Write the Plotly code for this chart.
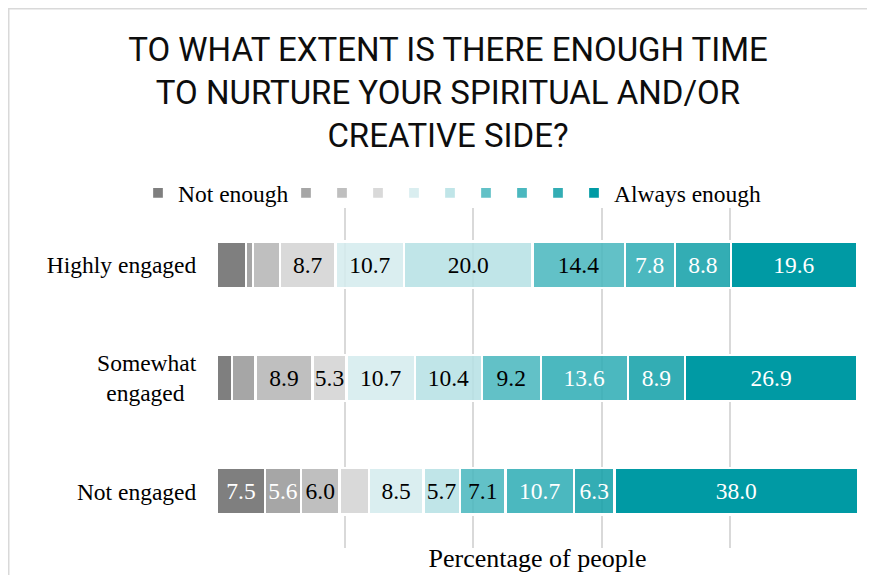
import plotly.graph_objects as go

# ---------------- data ----------------
categories = ["Highly engaged", "Somewhat engaged", "Not engaged"]
category_ticktext = ["Highly engaged", "Somewhat<br>engaged\u00a0\u00a0", "Not engaged"]
level_names = ["Not enough", " ", " ", " ", " ", " ", " ", " ", " ", "Always enough"]

highly_engaged = [4.5, 1.1, 4.2, 8.7, 10.7, 20.0, 14.4, 7.8, 8.8, 19.6]
somewhat_engaged = [2.3, 3.7, 8.9, 5.3, 10.7, 10.4, 9.2, 13.6, 8.9, 26.9]
not_engaged = [7.5, 5.6, 6.0, 4.6, 8.5, 5.7, 7.1, 10.7, 6.3, 38.0]

x_ticks = [0, 20, 40, 60, 80, 100]

# ---------------- style ----------------
target_colors = ["#7f7f7f", "#a6a6a6", "#bfbfbf", "#d9d9d9", "#daeef0",
                 "#c0e5e8", "#63c1c7", "#4cb8bf", "#33adb4", "#009aa4"]
alphas = [1, 1, 1, 1, 0.85, 0.85, 0.85, 0.85, 0.85, 1]
label_colors = ["white", "white", "black", "black", "black",
                "black", "black", "white", "white", "white"]

W, H = 867, 567
L, R, T, B = 209, 17, 200, 27
PW, PH = W - L - R, H - T - B
LEG_MAX = L + PW  # legend max width when anchored left of the plot area
legend_px = [148, 36, 36, 36, 36, 36, 36, 36, 36, 190]
legend_widths = [p / LEG_MAX for p in legend_px]


def rgba_over_white(hex_color, a):
    h = hex_color.lstrip("#")
    rgb = [int(h[i:i + 2], 16) for i in (0, 2, 4)]
    c = [max(0, min(255, round((v - (1 - a) * 255) / a))) for v in rgb]
    return f"rgba({c[0]},{c[1]},{c[2]},{a})"


SERIF = "Liberation Serif, Times New Roman, serif"
rows = [highly_engaged, somewhat_engaged, not_engaged]

fig = go.Figure()
for i, name in enumerate(level_names):
    vals = [r[i] for r in rows]
    fig.add_trace(go.Bar(
        y=categories,
        x=vals,
        name=name,
        orientation="h",
        text=[f"{v:.1f}" if v >= 5 else "" for v in vals],
        textposition="inside",
        insidetextanchor="middle",
        textangle=0,
        constraintext="none",
        textfont=dict(family=SERIF, size=23.5, color=label_colors[i]),
        marker=dict(color=rgba_over_white(target_colors[i], alphas[i]),
                    line=dict(color="white", width=2.3)),
        legendwidth=legend_widths[i],
        hoverinfo="x+y",
    ))

fig.update_layout(
    width=W, height=H,
    barmode="stack",
    bargap=0.59,
    paper_bgcolor="white",
    plot_bgcolor="white",
    margin=dict(l=L, r=R, t=T, b=B, autoexpand=False),
    title=dict(
        text="TO WHAT EXTENT IS THERE ENOUGH TIME<br>TO NURTURE YOUR SPIRITUAL AND/OR<br>CREATIVE SIDE?",
        font=dict(family="Roboto, Lato, sans-serif", size=33, color="#0d0d0d"),
        x=0.5075, xref="container", xanchor="center",
        y=1 - 53 / H, yref="container", yanchor="middle",
    ),
    legend=dict(
        orientation="h",
        x=(130 - L) / PW, xanchor="left",
        y=1 + 15 / PH, yanchor="middle",
        entrywidthmode="fraction",
        traceorder="normal",
        font=dict(family=SERIF, size=23.5, color="black"),
        bgcolor="rgba(0,0,0,0)",
    ),
    xaxis=dict(
        range=[0, 100],
        tickvals=x_ticks,
        showticklabels=False,
        showgrid=True,
        gridcolor="#d9d9d9",
        gridwidth=1.5,
        zeroline=False,
        showline=False,
        ticks="",
        title=dict(text="Percentage of people",
                   font=dict(family=SERIF, size=26, color="black"),
                   standoff=0),
        automargin=False,
    ),
    yaxis=dict(
        type="category",
        categoryorder="array",
        categoryarray=categories,
        tickvals=categories,
        ticktext=category_ticktext,
        autorange="reversed",
        showgrid=False,
        zeroline=False,
        showline=False,
        ticks="outside",
        ticklen=15,
        tickcolor="rgba(0,0,0,0)",
        tickfont=dict(family=SERIF, size=23.5, color="black"),
        automargin=False,
    ),
    shapes=[dict(type="rect", xref="paper", yref="paper",
                 x0=(0.75 - L) / PW, x1=1.2, y0=-0.3, y1=1 + (T - 0.75) / PH,
                 line=dict(color="#d9d9d9", width=1.5), fillcolor="rgba(0,0,0,0)",
                 layer="below")],
)

fig.write_html("out.html")
